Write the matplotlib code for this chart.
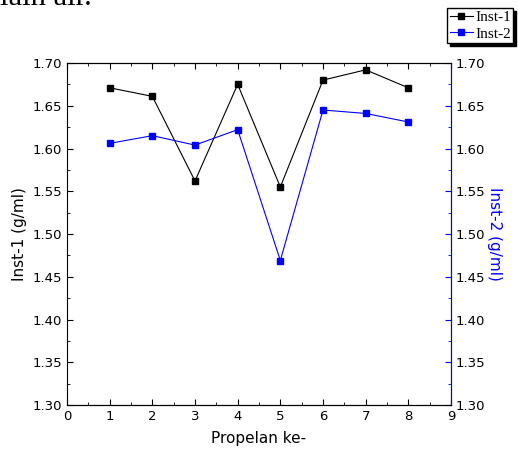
import matplotlib.pyplot as plt
from matplotlib.ticker import MultipleLocator

# data
propelan = [1, 2, 3, 4, 5, 6, 7, 8]
inst1 = [1.671, 1.661, 1.562, 1.675, 1.555, 1.680, 1.692, 1.671]
inst2 = [1.606, 1.615, 1.604, 1.622, 1.469, 1.645, 1.641, 1.631]

fig = plt.figure(figsize=(5.18, 4.57), dpi=100)
ax = fig.add_axes([67 / 518, 1 - 405 / 457, 384 / 518, 342 / 457])
ax2 = ax.twinx()

l1, = ax.plot(propelan, inst1, color="black", lw=0.8, marker="s", ms=4, label="Inst-1")
l2, = ax2.plot(propelan, inst2, color="blue", lw=0.8, marker="s", ms=4, label="Inst-2")

for a in (ax, ax2):
    a.set_ylim(1.30, 1.70)
    a.yaxis.set_major_locator(MultipleLocator(0.05))
    a.yaxis.set_minor_locator(MultipleLocator(0.025))
    a.yaxis.set_major_formatter(plt.FormatStrFormatter("%.2f"))

ax.set_xlim(0, 9)
ax.xaxis.set_major_locator(MultipleLocator(1))
ax.xaxis.set_minor_locator(MultipleLocator(0.5))
ax.tick_params(axis="both", which="both", direction="in", labelsize=9.5)
ax.tick_params(axis="x", which="both", top=True)
ax.tick_params(which="major", length=4.5)
ax.tick_params(which="minor", length=2.5)
ax.tick_params(axis="y", right=False)

ax2.tick_params(axis="y", which="both", direction="in", colors="blue", labelcolor="black", labelsize=9.5)
ax2.tick_params(which="major", length=4.5)
ax2.tick_params(which="minor", length=2.5)
ax2.spines["right"].set_color("blue")
ax2.spines["left"].set_visible(False)

ax.set_ylabel("Inst-1 (g/ml)", fontsize=11)
ax.set_xlabel("Propelan ke-", fontsize=11, labelpad=6)
ax2.set_ylabel("Inst-2 (g/ml)", fontsize=11, color="blue", rotation=270, labelpad=12)

leg = fig.legend(handles=[l1, l2], loc="upper right", bbox_to_anchor=(513 / 518, 1 - 8 / 457),
                 fancybox=False, shadow={"color": "black", "alpha": 1}, edgecolor="black",
                 framealpha=1, borderpad=0.15, labelspacing=0.2, handlelength=1.5,
                 handletextpad=0.15, borderaxespad=0, prop={"family": "Liberation Serif", "size": 11})

# top of the page text, mostly cut off like in the reference
fig.text(0.0, 1 - 5 / 457, "lain air.", family="Liberation Serif", fontsize=22, va="baseline")

fig.savefig("out.png", dpi=100)
